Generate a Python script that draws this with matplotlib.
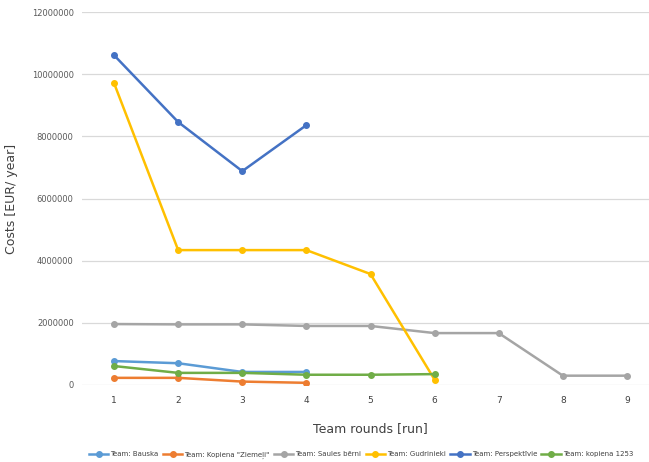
import numpy as np
import matplotlib.pyplot as plt

# ---------------- DATA ----------------
rounds = [1, 2, 3, 4, 5, 6, 7, 8, 9]

bauska = [770000, 700000, 420000, 420000]
kopiena_ziemeli = [230000, 230000, 110000, 70000]
saules_berni = [1960000, 1950000, 1950000, 1900000, 1900000, 1670000, 1670000, 300000, 300000]
gudrinieki = [9710000, 4340000, 4340000, 4340000, 3570000, 170000]
perspektivie = [10610000, 8460000, 6880000, 8360000]
kopiena_1253 = [610000, 390000, 390000, 330000, 330000, 350000]

series = [
    ("Team: Bauska", bauska, "#5B9BD5"),
    ("Team: Kopiena \"Ziemeļi\"", kopiena_ziemeli, "#ED7D31"),
    ("Team: Saules bērni", saules_berni, "#A5A5A5"),
    ("Team: Gudrinieki", gudrinieki, "#FFC000"),
    ("Team: Perspektīvie", perspektivie, "#4472C4"),
    ("Team: kopiena 1253", kopiena_1253, "#70AD47"),
]
yticks = [0, 2000000, 4000000, 6000000, 8000000, 10000000, 12000000]

# ---------------- PLOT ----------------
fig = plt.figure(figsize=(6.49, 4.62), dpi=100)
ax = fig.add_axes([82 / 649, 77 / 462, 577 / 649, 373 / 462])

for name, vals, col in series:
    ax.plot(rounds[:len(vals)], vals, color=col, lw=1.8, marker="o",
            markersize=4, label=name, zorder=3)

ax.set_xlim(0.5, 9.5)
ax.set_ylim(0, 12000000)
ax.set_xticks(rounds)
ax.set_yticks(yticks)
ax.set_yticklabels([str(v) for v in yticks])
ax.grid(axis="y", color="#d9d9d9", lw=0.9)
ax.set_axisbelow(True)
for s in ax.spines.values():
    s.set_visible(False)
ax.tick_params(axis="both", length=0)
ax.tick_params(axis="y", labelsize=6, labelcolor="#595959", pad=6)
ax.tick_params(axis="x", labelsize=6.5, labelcolor="#404040", pad=8)

ax.set_ylabel("Costs [EUR/ year]", fontsize=9, color="#404040", labelpad=10)
ax.set_xlabel("Team rounds [run]", fontsize=9, color="#404040", labelpad=12)

fig.legend(loc="center", bbox_to_anchor=(361 / 649, 1 - 455 / 462), ncol=6,
           frameon=False, fontsize=5.0, handlelength=2.8, columnspacing=0.6,
           handletextpad=0.3, labelcolor="#404040")

plt.savefig("out.png", dpi=100)
